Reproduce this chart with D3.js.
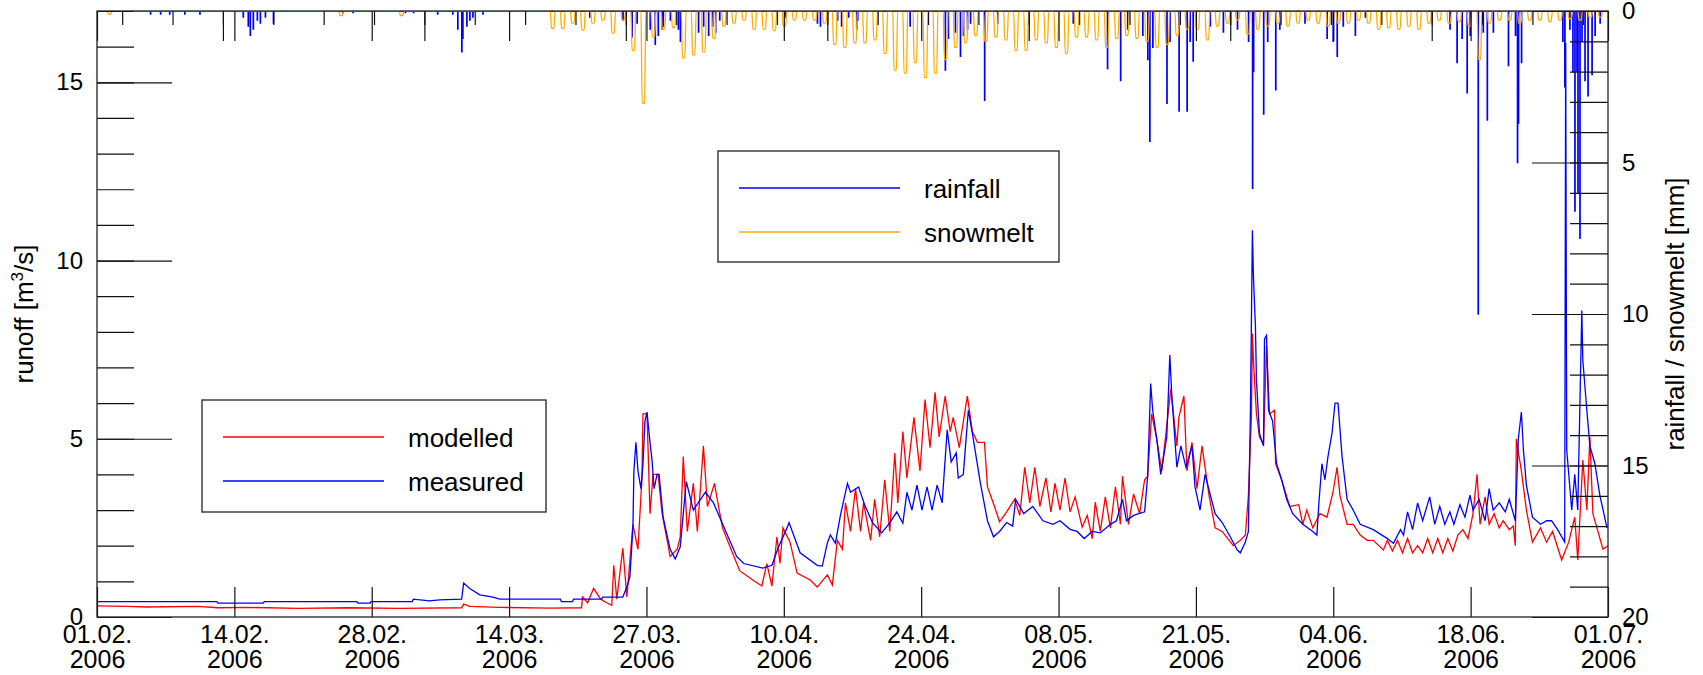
<!DOCTYPE html>
<html>
<head>
<meta charset="utf-8">
<script src="https://cdn.jsdelivr.net/npm/d3@7"></script>
<style>
body { margin: 0; background: #fff; }
text { font-family: "Liberation Sans", Arial, Helvetica, sans-serif; fill: #000; }
</style>
</head>
<body>
<svg id="chart" width="1703" height="675"></svg>
<script>
// x in days after 01.02.2006
var xTickLabels = ["01.02.", "14.02.", "28.02.", "14.03.", "27.03.", "10.04.",
                   "24.04.", "08.05.", "21.05.", "04.06.", "18.06.", "01.07."];
var yearLabel = "2006";
var runoffTicks = [0, 5, 10, 15];
var rainTicks = [0, 5, 10, 15, 20];

// measured runoff [m3/s]
var measured = [
[0,0.43],[11.9,0.43],[12,0.39],[16.5,0.39],[16.6,0.43],[25.8,0.43],[25.9,0.39],[27.1,0.39],[27.2,0.43],[31.3,0.43],
[31.4,0.5],[33,0.45],[34,0.48],[36.2,0.5],[36.4,0.95],[37,0.8],[38,0.62],[39.3,0.56],[40,0.5],[46,0.5],
[46.1,0.43],[47.2,0.43],[47.3,0.5],[50.1,0.5],[50.2,0.56],[52.2,0.56],[52.6,0.84],[52.9,1.12],[53.2,2.5],[53.3,4.1],
[53.5,4.9],[53.7,4.1],[54,3.6],[54.2,4.3],[54.4,5.5],[54.6,5.75],[54.9,4.9],[55.1,4.4],[55.3,3.6],[55.6,4.0],
[55.8,4.0],[56.2,2.8],[56.9,1.9],[57.4,1.63],[57.9,1.97],[58.2,2.9],[58.5,3.8],[59.2,3.0],[60.4,3.5],[61.2,3.2],
[62.5,2.35],[63.5,1.7],[64.2,1.5],[66.1,1.37],[67,1.45],[67.6,1.93],[68.5,2.5],[68.7,2.65],[69.8,1.8],[71.5,1.45],
[72,1.43],[72.5,2.07],[72.8,2.3],[73.3,2.07],[73.8,2.85],[74.5,3.75],[74.8,3.5],[75.6,3.65],[76.2,3.15],[77,2.64],
[77.9,2.36],[78.7,2.64],[79.4,2.95],[80,2.63],[80.4,3.5],[80.9,3.0],[81.4,3.7],[81.9,3.0],[82.4,3.65],[82.9,3.0],
[83.4,3.7],[83.9,3.2],[84.4,5.25],[84.8,4.35],[85.3,4.6],[85.5,3.9],[86,4.0],[86.5,5.8],[86.9,5.15],[87.7,3.75],
[88.4,2.7],[89,2.25],[89.6,2.4],[90.3,2.65],[90.9,2.55],[91.2,3.3],[92,2.9],[92.9,3.1],[93.9,2.7],[94.9,2.6],
[95.6,2.7],[96.6,2.46],[97.3,2.4],[98,2.2],[98.8,2.4],[99.6,2.36],[100.6,2.6],[101.2,2.7],[101.8,3.3],[102.2,2.7],
[102.9,2.85],[104,2.95],[104.3,3.95],[104.6,6.55],[104.8,5.8],[105.2,5.0],[105.6,4.0],[106.2,5.05],[106.5,7.35],[106.7,6.2],
[107.2,4.2],[107.6,4.8],[108.1,4.2],[108.7,4.8],[109,3.65],[109.5,3.0],[110,4.0],[111,2.9],[111.7,2.65],[112.5,2.25],
[113.2,1.88],[113.5,1.8],[114,2.1],[114.3,2.4],[114.5,5.75],[114.7,10.85],[114.8,9.55],[115,8.15],[115.1,6.65],[115.4,5.15],
[115.8,4.8],[115.9,7.8],[116.1,7.9],[116.3,5.8],[116.7,5.5],[117.1,4.3],[117.6,3.85],[118.1,3.3],[118.7,2.9],[119.7,2.6],
[120.7,2.4],[121.1,2.3],[121.3,3.2],[121.6,4.3],[121.9,3.85],[122.2,4.5],[122.6,5.15],[122.9,6.0],[123.2,6.0],[123.6,4.5],
[124.1,3.3],[124.7,3.0],[125.4,2.6],[126.7,2.45],[128.1,2.2],[128.7,2.07],[129.4,2.45],[129.7,2.3],[130.1,2.95],[130.6,2.45],
[131.1,3.2],[131.6,2.7],[132.3,3.37],[132.8,2.6],[133.3,3.1],[133.8,2.6],[134.3,2.95],[134.7,2.6],[135.3,3.15],[135.8,2.8],
[136.3,3.42],[136.6,3.0],[137.2,3.3],[137.8,2.7],[138.2,3.6],[138.6,3.0],[139.2,3.2],[139.8,2.95],[140.2,3.3],[140.8,2.7],
[141.1,5.0],[141.4,5.75],[141.6,4.7],[141.9,3.7],[142.5,2.8],[143.3,2.6],[143.9,2.7],[144.4,2.7],[145.0,2.45],[145.7,2.1],
[145.8,16.1],[145.9,4.7],[146.4,3.0],[146.7,4.0],[147.0,3.0],[147.4,8.6],[147.5,7.2],[147.9,5.8],[148.2,4.8],[148.7,4.3],
[149.2,3.4],[149.9,2.5]
];

// modelled runoff [m3/s]
var modelled = [
[0,0.31],[3,0.3],[5,0.28],[10,0.3],[12,0.26],[15,0.27],[20,0.24],[25,0.26],[30,0.24],[36.2,0.26],
[36.4,0.36],[37,0.3],[40,0.27],[45,0.25],[48.1,0.26],[48.2,0.56],[48.7,0.4],[49.3,0.8],[50,0.5],[50.6,0.4],
[51.1,0.33],[51.3,1.45],[51.6,0.5],[52.2,1.93],[52.6,0.56],[53.2,2.6],[53.7,1.9],[54.1,3.9],[54.2,5.7],[54.6,5.7],
[54.9,2.9],[55.2,4.0],[55.7,4.0],[56.1,2.9],[56.9,1.7],[57.6,1.9],[57.9,2.25],[58.2,4.5],[58.6,2.4],[59.2,3.75],
[59.6,2.4],[60.2,4.8],[60.6,3.1],[61.3,3.75],[61.7,3.1],[62.1,2.5],[62.8,2.0],[63.8,1.3],[65.1,1.04],[66,0.87],
[66.5,1.5],[67,0.87],[67.5,2.25],[67.8,1.5],[68.1,2.5],[68.8,2.1],[69.5,1.23],[70.8,1.04],[71.5,0.84],[72.5,1.18],
[73,0.9],[73.5,2.15],[74,1.9],[74.3,3.2],[74.8,2.4],[75.3,3.6],[75.8,2.4],[76.1,3.2],[76.8,2.15],[77.2,3.3],
[77.7,2.25],[78.2,3.85],[78.7,2.4],[79.2,4.6],[79.5,3.2],[80,5.2],[80.4,3.9],[81.1,5.6],[81.7,4.1],[82.2,6.1],
[82.7,4.75],[83.2,6.3],[83.6,5.05],[84.2,6.2],[84.7,5.2],[85,5.6],[85.6,4.75],[86.4,6.2],[86.9,5.2],[87.4,4.9],
[88.1,4.9],[88.4,3.65],[89.1,3.1],[89.6,2.67],[90.3,2.95],[91.1,3.3],[91.6,2.85],[92.1,4.2],[92.6,3.2],[93.1,4.2],
[93.6,3.1],[94.2,3.9],[94.7,2.95],[95.1,3.75],[95.6,3.0],[96.1,3.9],[96.6,2.95],[97.1,3.37],[97.8,2.52],[98.3,2.85],
[98.8,2.2],[99.1,3.22],[99.6,2.4],[100.1,3.37],[100.6,2.5],[101.1,3.65],[101.6,2.6],[101.8,3.95],[102.4,2.6],[102.9,3.45],
[103.5,2.9],[104,3.85],[104.3,3.95],[104.7,5.7],[105.2,5.0],[105.7,4.1],[106.6,6.4],[107.2,4.8],[107.4,5.6],[107.9,6.2],
[108.2,4.1],[108.7,4.9],[109.2,3.6],[109.7,4.8],[110.4,3.4],[111,2.5],[111.7,2.4],[112.8,2.0],[113.5,2.15],[114,2.3],
[114.3,3.4],[114.6,5.6],[114.7,7.95],[114.8,7.2],[115.1,5.7],[115.4,5.05],[115.8,4.85],[116.1,7.6],[116.4,5.7],[116.9,5.8],
[117,4.3],[117.6,3.85],[118.4,3.1],[119.3,3.15],[119.7,2.6],[120.1,3.0],[120.7,2.5],[121.4,2.9],[122.1,2.8],[122.7,3.5],
[123.1,4.2],[123.4,3.4],[124.1,2.6],[124.7,2.6],[125.4,2.3],[126.1,2.15],[126.7,2.15],[127.7,1.88],[128.1,2.15],[128.6,1.85],
[129.1,2.15],[129.6,1.8],[130.1,2.2],[130.6,1.8],[131.1,2.0],[131.6,1.8],[132.1,2.2],[132.6,1.8],[133.1,2.2],[133.6,1.8],
[134.1,2.2],[134.6,1.85],[135.1,2.3],[135.6,2.45],[136.1,2.2],[136.6,2.9],[137,4.0],[137.3,2.6],[137.8,3.37],[138.2,2.6],
[138.7,2.9],[139.2,2.5],[139.6,2.7],[140.2,2.45],[140.6,2.55],[140.8,2.0],[140.9,5.0],[141.4,4.1],[141.9,3.0],[142.5,2.1],
[143.3,2.5],[143.9,2.1],[144.5,2.4],[145.4,1.6],[146.1,2.1],[146.7,2.8],[147,1.6],[147.5,4.4],[147.9,3.0],[148.2,5.05],
[148.5,2.9],[148.9,2.5],[149.5,1.9],[150,2.0]
];

// rainfall [mm], one hourly bin per entry
var rainfall = [
[5.3,0.1],[6.3,0.1],[7.2,0.1],[8.7,0.1],[10.2,0.1],[14.5,0.2],[15,0.5],[15.2,0.8],[15.5,0.6],[15.9,0.3],
[16.2,0.4],[16.7,0.2],[17.5,0.4],[24.4,0.05],[25.4,0.05],[30.6,0.05],[31.4,0.05],[33.8,0.1],[35.3,0.1],[35.8,0.6],
[36.2,1.35],[36.3,0.9],[36.7,0.5],[37,0.3],[37.3,0.2],[38.3,0.1],[48.9,0.2],[52.2,0.3],[53.1,0.85],[53.6,0.4],
[54.9,0.6],[55.4,1.1],[55.7,0.8],[56.1,0.6],[56.2,0.5],[56.9,0.3],[57.7,0.6],[57.9,1.0],[59.7,0.7],[60.2,0.5],
[60.7,0.8],[61.1,0.5],[61.4,0.7],[61.8,0.3],[68.3,0.2],[71.5,0.4],[71.8,0.5],[73.5,0.3],[73.9,0.5],[74.6,0.2],
[75.4,0.6],[75.5,0.3],[80.7,0.5],[84.2,1.95],[84.5,0.9],[85.2,0.7],[85.7,1.5],[86,0.8],[86.4,0.6],[86.7,0.4],
[88.1,2.95],[89.4,0.4],[96.9,0.4],[100.3,1.9],[101.6,2.3],[102.3,0.6],[103.8,0.8],[104.3,1.6],[104.5,4.3],[104.8,1.2],
[106.2,3.05],[106.5,1.0],[107.4,3.3],[108.2,3.3],[108.5,1.0],[108.8,1.65],[110.5,0.5],[111.8,0.7],[113.2,0.6],[114.3,1.0],
[114.7,5.85],[114.8,2.0],[115.8,3.4],[116.2,1.0],[117,2.6],[117.4,0.6],[119.9,0.4],[122.1,0.9],[122.7,1.0],[123.1,1.5],
[123.7,0.5],[124.9,0.8],[125.9,0.2],[134.3,0.6],[135,1.7],[135.5,0.9],[136,2.7],[136.3,0.8],[137.1,10.0],[137.6,0.7],
[138,3.6],[138.6,0.7],[140.1,1.8],[140.8,0.8],[141,5.0],[141.1,3.7],[141.4,1.7],[145.5,1.0],[145.7,2.5],[146.2,0.6],
[146.5,2.0],[146.7,6.6],[146.9,2.0],[147,6.0],[147.2,7.5],[147.4,1.0],[147.7,2.3],[148,2.8],[148.4,2.1],[148.7,0.8],
[149.2,0.4]
];

// snowmelt [mm], daily maximum, one per day from 01.02.
var snowmelt = [
0,0.1,0,0,0,0,0,0,0,0, 0,0,0,0,0,0,0,0,0,0, 0,0,0,0,0.15,0,0,0,0,0, 0.15,0,0,0,0,0,0,0,0,0,
0,0,0,0,0,0.57,0.57,0.4,0.63,0.4, 0.3,0.73,0.3,1.3,3.05,0.85,0.6,0.55,1.55,1.45, 1.35,0.9,0.5,0.4,0.3,0.6,0.6,0.65,0.5,0.3,
0.3,0.3,0.4,1.1,1.2,1.05,1.05,0.95,1.4,1.95, 2.05,1.7,2.2,2.05,1.6,1.2,1.05,0.8,1.0,0.85, 0.95,1.3,1.3,0.95,1.05,1.2,1.4,0.85,0.85,0.95,
1.2,0.9,0.8,0.9,1.0,1.2,1.1,0.8,0.6,0.6, 0.95,0.5,0.4,0.3,0.75,0.6,0.5,0.4,0.5,0.4, 0.3,0.4,0.5,0.4,0.4,0.3,0.4,0.6,0.55,0.6,
0.5,0.6,0.4,0.3,0.4,0.35,0.5,1.6,0.4,0.3, 0.3,0.4,0.3,0.3,0.35,0.3,0.25,0.3,0.2,0.2
];

var svg = d3.select("#chart");
var pl = 97, pr = 1608, pt = 11, pb = 617;

var x = d3.scaleLinear().domain([0, 150]).range([pl, pr]);
var yRun = d3.scaleLinear().domain([0, 17]).range([pb, pt]);
var yRain = d3.scaleLinear().domain([0, 20]).range([pt, pb]);

// 11 equal divisions of the time axis
var xTicks = d3.range(12).map(function (i) { return i * 150 / 11; });
// the overlay pad has its own top axis, shifted by ~7.5 days
var topShift = 7.5;
var topMinor = d3.range(10, 160, 5).map(function (u) { return u - topShift; })
    .filter(function (d) { return d >= 0 && d <= 150; });
var topMajor = d3.range(20, 160, 20).map(function (u) { return u - topShift; })
    .filter(function (d) { return d >= 0 && d <= 150; });

svg.append("defs").append("clipPath").attr("id", "plotclip")
    .append("rect").attr("x", pl).attr("y", pt).attr("width", pr - pl).attr("height", pb - pt);

var plot = svg.append("g").attr("clip-path", "url(#plotclip)");

var runLine = d3.line()
    .x(function (d) { return x(d[0]); })
    .y(function (d) { return yRun(d[1]); });

plot.append("path").datum(modelled)
    .attr("d", runLine).attr("fill", "none").attr("stroke", "#ff0000").attr("stroke-width", 1.3);
plot.append("path").datum(measured)
    .attr("d", runLine).attr("fill", "none").attr("stroke", "#0000ff").attr("stroke-width", 1.3);

// rainfall histogram hanging from the top
var rainPts = [[0, 0]];
rainfall.forEach(function (d) {
    rainPts.push([d[0], 0], [d[0], d[1]], [d[0] + 1 / 24, d[1]], [d[0] + 1 / 24, 0]);
});
rainPts.push([150, 0]);
var rainLine = d3.line()
    .x(function (d) { return x(d[0]); })
    .y(function (d) { return yRain(d[1]); });
plot.append("path").datum(rainPts)
    .attr("d", rainLine).attr("fill", "none").attr("stroke", "#0000ff").attr("stroke-width", 1.3);

// snowmelt: one rounded afternoon pulse per day
var snowPts = [[0, 0]];
snowmelt.forEach(function (p, k) {
    if (p > 0) snowPts.push([k, 0], [k + 0.12, p], [k + 0.36, p], [k + 0.48, 0]);
});
snowPts.push([150, 0]);
var snowLine = d3.line()
    .x(function (d) { return x(d[0]); })
    .y(function (d) { return yRain(d[1]); })
    .curve(d3.curveMonotoneX);
plot.append("path").datum(snowPts)
    .attr("d", snowLine).attr("fill", "none").attr("stroke", "#ffaa00").attr("stroke-width", 1.3);

// axes, ticks pointing inward like ROOT
function styleAxis(g) {
    g.select(".domain").remove();
    g.attr("font-family", null).attr("font-size", null).attr("color", "#111");
    g.selectAll(".tick line").attr("stroke-width", 1.2);
}

var gLeft = svg.append("g").attr("transform", "translate(" + pl + ",0)")
    .call(d3.axisLeft(yRun).tickValues(runoffTicks).tickSize(-75).tickPadding(14).tickFormat(d3.format("d")))
    .call(styleAxis);
gLeft.selectAll("text").style("font-size", "24px");
svg.append("g").attr("transform", "translate(" + pl + ",0)")
    .call(d3.axisLeft(yRun).tickValues(d3.range(0, 18)).tickSize(-37).tickFormat(""))
    .call(styleAxis);

var gRight = svg.append("g").attr("transform", "translate(" + pr + ",0)")
    .call(d3.axisRight(yRain).tickValues(rainTicks).tickSize(-76).tickPadding(14).tickFormat(d3.format("d")))
    .call(styleAxis);
gRight.selectAll("text").style("font-size", "24px");
svg.append("g").attr("transform", "translate(" + pr + ",0)")
    .call(d3.axisRight(yRain).tickValues(d3.range(0, 21)).tickSize(-38).tickFormat(""))
    .call(styleAxis);

var gBottom = svg.append("g").attr("transform", "translate(0," + pb + ")")
    .call(d3.axisBottom(x).tickValues(xTicks).tickSize(-30).tickFormat(function (d, i) { return xTickLabels[i]; }))
    .call(styleAxis);
gBottom.selectAll(".tick text").each(function (d, i) {
    var t = d3.select(this);
    t.text(null).attr("y", 26).attr("dy", null).style("font-size", "25px");
    t.append("tspan").attr("x", 0).text(xTickLabels[i]);
    t.append("tspan").attr("x", 0).attr("dy", 25).text(yearLabel);
});

svg.append("g").attr("transform", "translate(0," + pt + ")")
    .call(d3.axisTop(x).tickValues(xTicks).tickSize(-30).tickFormat(""))
    .call(styleAxis);
svg.append("g").attr("transform", "translate(0," + pt + ")")
    .call(d3.axisTop(x).tickValues(topMinor).tickSize(-14).tickFormat(""))
    .call(styleAxis);
svg.append("g").attr("transform", "translate(0," + pt + ")")
    .call(d3.axisTop(x).tickValues(topMajor).tickSize(-30).tickFormat(""))
    .call(styleAxis);

// frame
svg.append("rect").attr("x", pl).attr("y", pt).attr("width", pr - pl).attr("height", pb - pt)
    .attr("fill", "none").attr("stroke", "#222").attr("stroke-width", 1.3);

// axis titles
var lt = svg.append("text").attr("transform", "translate(33,314) rotate(-90)")
    .attr("text-anchor", "middle").style("font-size", "26px");
lt.append("tspan").text("runoff [m");
lt.append("tspan").attr("dy", -10).style("font-size", "17px").text("3");
lt.append("tspan").attr("dy", 10).text("/s]");

svg.append("text").attr("transform", "translate(1684,314) rotate(-90)")
    .attr("text-anchor", "middle").style("font-size", "26px")
    .text("rainfall / snowmelt [mm]");

// legends
function legend(bx, by, bw, bh, items) {
    var g = svg.append("g");
    g.append("rect").attr("x", bx).attr("y", by).attr("width", bw).attr("height", bh)
        .attr("fill", "#fff").attr("stroke", "#222").attr("stroke-width", 1.3);
    items.forEach(function (it, i) {
        var ly = by + 37 + i * 44;
        g.append("line").attr("x1", bx + 21).attr("x2", bx + 182).attr("y1", ly).attr("y2", ly)
            .attr("stroke", it.color).attr("stroke-width", 1.3);
        g.append("text").attr("x", bx + 206).attr("y", ly + 10).style("font-size", "26px").text(it.label);
    });
}
legend(202, 400, 344, 112, [{label: "modelled", color: "#ff0000"}, {label: "measured", color: "#0000ff"}]);
legend(718, 151, 341, 111, [{label: "rainfall", color: "#0000ff"}, {label: "snowmelt", color: "#ffaa00"}]);
</script>
</body>
</html>
